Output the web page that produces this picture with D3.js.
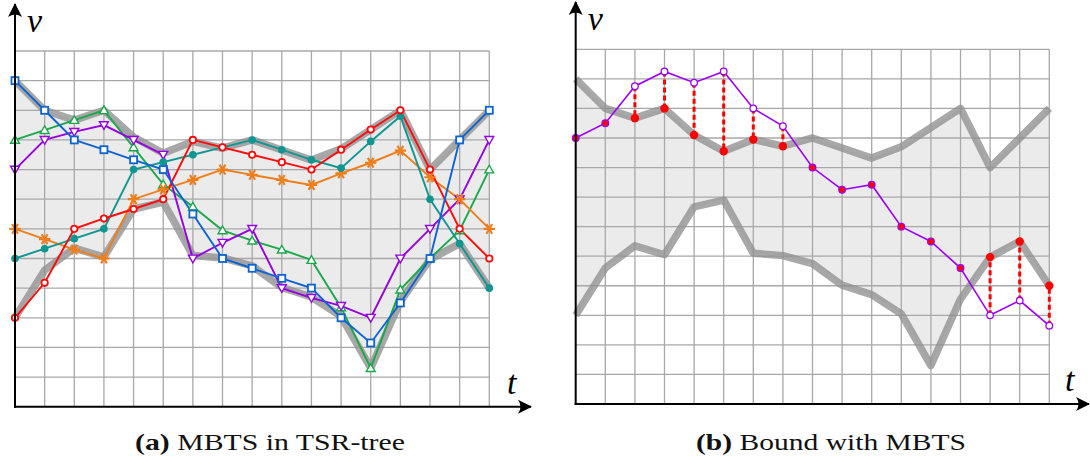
<!DOCTYPE html>
<html><head><meta charset="utf-8">
<script src="https://cdn.jsdelivr.net/npm/d3@7"></script>
<style>body{margin:0;background:#fff}svg{display:block}</style>
</head><body>
<svg id="c" width="1090" height="465"></svg>
<script>
// ---- data ----
const tValues = d3.range(0, 17);
const vGrid = d3.range(1, 13);
const upperEnv = [11, 10, 9.67, 10, 9.1, 8.55, 8.95, 8.72, 9, 8.66, 8.32, 8.7, 9.35, 10, 8, 9, 10];
const lowerEnv = [3, 4.6, 5.35, 5.05, 6.67, 6.9, 5.1, 5.02, 4.75, 4.02, 3.7, 3.05, 1.3, 3.55, 4.97, 5.5, 4.0];
const blueSeries   = [11, 10, 9, 8.67, 8.33, 8, 6.5, 5, 4.67, 4.33, 4, 3, 2.15, 3.5, 5, 9, 10];
const greenSeries  = [9, 9.33, 9.67, 10, 8.75, 7.5, 6.75, 5.95, 5.6, 5.3, 4.95, 3.35, 1.3, 3.95, 5, 5.95, 8];
const purpleSeries = [8, 9, 9.27, 9.5, 9, 8.5, 5, 5.53, 6, 4, 3.67, 3.4, 3, 5, 6, 7, 9];
const tealSeries   = [5, 5.33, 5.67, 6, 8, 8.25, 8.5, 8.75, 9, 8.67, 8.33, 8.05, 8.95, 9.8, 7, 5.5, 4];
const redSeries    = [3, 4.18, 6, 6.35, 6.67, 7, 9, 8.75, 8.5, 8.25, 8, 8.67, 9.35, 10, 8, 6, 5];
const orangeSeries = [6, 5.65, 5.3, 5, 7, 7.33, 7.65, 8, 7.82, 7.65, 7.48, 7.87, 8.23, 8.64, 7.74, 7, 6];
const querySeries  = [9, 9.5, 10.75, 11.25, 10.87, 11.25, 10, 9.4, 8, 7.25, 7.42, 6, 5.5, 4.6, 3, 3.5, 2.65];

const SERIF = "'Liberation Serif', 'Times New Roman', 'DejaVu Serif', serif";
const svg = d3.select("#c");
const defs = svg.append("defs");
defs.append("marker").attr("id","arr").attr("viewBox","-14 -8 16 16")
  .attr("refX",0).attr("refY",0).attr("markerWidth",16).attr("markerHeight",16)
  .attr("markerUnits","userSpaceOnUse").attr("orient","auto")
  .append("path").attr("d","M1,0 L-13,-7 Q-8,0 -13,7 Z").attr("fill","#000");

function panel(x0, x1, yBase, yTop, axisEndX, axisTopY, drawContent, caption, capX, capW) {
  const x = d3.scaleLinear().domain([0,16]).range([x0, x1]);
  const y = d3.scaleLinear().domain([0,12]).range([yBase, yTop]);
  const g = svg.append("g");
  const area = d3.area().x((d,i)=>x(i)).y0((d,i)=>y(lowerEnv[i])).y1(d=>y(d));
  g.append("path").datum(upperEnv).attr("d", area).attr("fill","#ebebeb");
  g.selectAll(".gv").data(tValues.slice(1)).enter().append("line")
    .attr("x1",d=>x(d)).attr("x2",d=>x(d)).attr("y1",y(0)).attr("y2",y(12))
    .attr("stroke","#a8a8a8").attr("stroke-width",1.3);
  g.selectAll(".gh").data(vGrid).enter().append("line")
    .attr("x1",x(0)).attr("x2",x(16)).attr("y1",d=>y(d)).attr("y2",d=>y(d))
    .attr("stroke","#a8a8a8").attr("stroke-width",1.3);
  const line = d3.line().x((d,i)=>x(i)).y(d=>y(d));
  [upperEnv, lowerEnv].forEach(e=>{
    g.append("path").datum(e).attr("d", line).attr("fill","none")
      .attr("stroke","#8f8f8f").attr("stroke-opacity",0.78).attr("stroke-width",7.5)
      .attr("stroke-linejoin","round");
  });
  drawContent(g, x, y, line);
  g.append("line").attr("x1",x(0)).attr("x2",x(0)).attr("y1",y(0)+1).attr("y2",axisTopY)
    .attr("stroke","#000").attr("stroke-width",2).attr("marker-end","url(#arr)");
  g.append("line").attr("x1",x(0)-1).attr("x2",axisEndX).attr("y1",y(0)).attr("y2",y(0))
    .attr("stroke","#000").attr("stroke-width",2).attr("marker-end","url(#arr)");
  g.append("text").attr("x",x(0)+12).attr("y",yTop-19).text("v")
    .attr("font-family",SERIF).attr("font-style","italic").attr("font-size",34);
  g.append("text").attr("x",axisEndX-24).attr("y",yBase-13).text("t")
    .attr("font-family",SERIF).attr("font-style","italic").attr("font-size",34);
  const cap = g.append("text").attr("x",capX).attr("y",450)
    .attr("textLength", capW).attr("lengthAdjust","spacingAndGlyphs")
    .attr("font-family",SERIF).attr("font-size",23).attr("fill","#111");
  cap.append("tspan").attr("font-weight","bold").text(caption[0]);
  cap.append("tspan").text(" " + caption[1]);
}

function sym(type, size){ return d3.symbol().type(type).size(size)(); }

panel(15, 489.3, 406.7, 51, 531, 4, (g, x, y, line) => {
  const series = [
    {d: greenSeries, c: "#1aa84a", m: "tri"},
    {d: purpleSeries, c: "#9400e0", m: "tridown"},
    {d: orangeSeries, c: "#ef7d1a", m: "ast"},
    {d: tealSeries, c: "#0f9690", m: "dot"},
    {d: redSeries, c: "#ff0a0a", m: "circ"},
    {d: blueSeries, c: "#0d64d0", m: "sq"}
  ];
  series.forEach(s=>{
    g.append("path").datum(s.d).attr("d", line).attr("fill","none")
      .attr("stroke", s.c).attr("stroke-width", 1.9);
  });
  series.forEach(s=>{
    const pts = g.selectAll(null).data(s.d).enter();
    if (s.m === "sq") {
      pts.append("rect").attr("x",(d,i)=>x(i)-3.5).attr("y",d=>y(d)-3.5)
        .attr("width",7).attr("height",7).attr("fill","#fff").attr("stroke",s.c).attr("stroke-width",1.8);
    } else if (s.m === "circ") {
      pts.append("circle").attr("cx",(d,i)=>x(i)).attr("cy",d=>y(d)).attr("r",3.2)
        .attr("fill","#fff").attr("stroke",s.c).attr("stroke-width",1.8);
    } else if (s.m === "dot") {
      pts.append("circle").attr("cx",(d,i)=>x(i)).attr("cy",d=>y(d)).attr("r",3.8).attr("fill",s.c);
    } else if (s.m === "tri") {
      pts.append("path").attr("d", sym(d3.symbolTriangle, 34))
        .attr("transform",(d,i)=>`translate(${x(i)},${y(d)+0.8})`)
        .attr("fill","#fff").attr("stroke",s.c).attr("stroke-width",1.4);
    } else if (s.m === "tridown") {
      pts.append("path").attr("d", sym(d3.symbolTriangle, 34))
        .attr("transform",(d,i)=>`translate(${x(i)},${y(d)-0.8}) rotate(180)`)
        .attr("fill","#fff").attr("stroke",s.c).attr("stroke-width",1.4);
    } else if (s.m === "ast") {
      pts.append("path").attr("d", sym(d3.symbolAsterisk, 90))
        .attr("transform",(d,i)=>`translate(${x(i)},${y(d)}) rotate(90)`)
        .attr("fill","none").attr("stroke",s.c).attr("stroke-width",2.2);
    }
  });
}, ["(a)", "MBTS in TSR-tree"], 135, 270);

panel(575.7, 1049.3, 404, 49.3, 1089, 2, (g, x, y, line) => {
  const qc = "#9b00f5";
  g.append("path").datum(querySeries).attr("d", line).attr("fill","none")
    .attr("stroke", qc).attr("stroke-width", 1.6);
  const info = querySeries.map((v,i)=>{
    if (v > upperEnv[i]) return {i, v, b: upperEnv[i], out: true};
    if (v < lowerEnv[i]) return {i, v, b: lowerEnv[i], out: true};
    return {i, v, out: false};
  });
  const outs = info.filter(d=>d.out);
  g.selectAll(null).data(outs).enter().append("line")
    .attr("x1",d=>x(d.i)).attr("x2",d=>x(d.i)).attr("y1",d=>y(d.v)).attr("y2",d=>y(d.b))
    .attr("stroke","#f00").attr("stroke-width",3).attr("stroke-dasharray","5,3");
  g.selectAll(null).data(outs).enter().append("circle")
    .attr("cx",d=>x(d.i)).attr("cy",d=>y(d.b)).attr("r",4.2).attr("fill","#f00");
  g.selectAll(null).data(info).enter().append("circle")
    .attr("cx",d=>x(d.i)).attr("cy",d=>y(d.v)).attr("r",3.3)
    .attr("fill",d=>d.out ? "#fff" : "#f00").attr("stroke",qc).attr("stroke-width",1.3);
}, ["(b)", "Bound with MBTS"], 696, 270);
</script>
</body></html>
